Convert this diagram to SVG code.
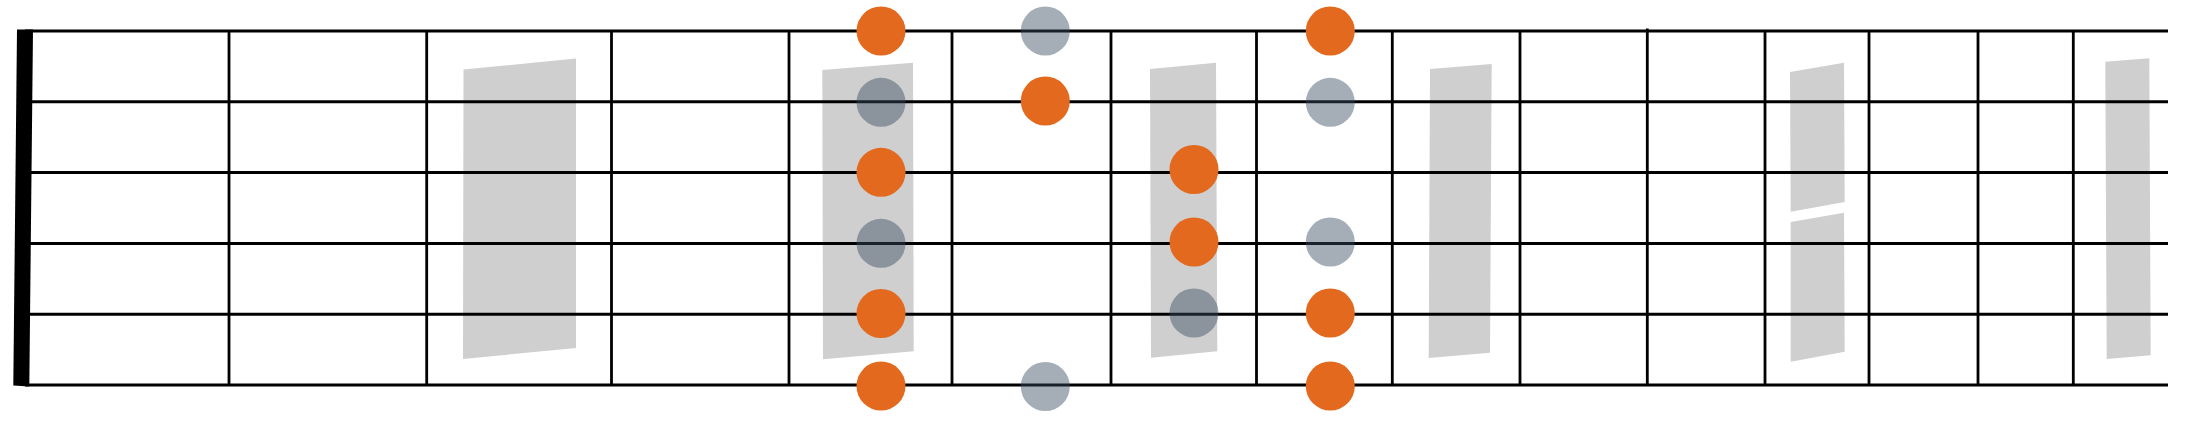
<svg xmlns="http://www.w3.org/2000/svg" width="2191" height="429" viewBox="0 0 2191 429">
  <style>
    .box { fill: #cfcfcf; }
    .str { stroke: #000; stroke-width: 3; fill: none; }
    .fret { stroke: #000; stroke-width: 2.8; fill: none; }
    .root { fill: #e3691e; }
    .tone { fill: rgb(56,76,96); fill-opacity: 0.45; }
  </style>
  <rect width="2191" height="429" fill="#fff"/>
  <g id="positions">
    <polygon class="box" points="463.5,69.5 576,58.5 576,348 463,359"/>
    <polygon class="box" points="822.3,70 913,62.7 913.7,351.3 823,359.3"/>
    <polygon class="box" points="1150,69 1216,62.7 1217.3,351.3 1151,357.7"/>
    <polygon class="box" points="1430,69 1491.7,64 1490,352.7 1428.7,358"/>
    <polygon class="box" points="1790,72 1844,62.7 1844.7,202 1790.7,211.7"/>
    <polygon class="box" points="1790.7,222 1844,212.7 1844.7,351.7 1790.7,361.7"/>
    <polygon class="box" points="2105.3,61.7 2149.3,58.3 2150.7,355.3 2106.7,359"/>
  </g>
  <g id="fretboard">
    <g id="strings">
      <line class="str" x1="25" y1="31" x2="2168" y2="31"/>
      <line class="str" x1="25" y1="101.8" x2="2168" y2="101.8"/>
      <line class="str" x1="25" y1="172.6" x2="2168" y2="172.6"/>
      <line class="str" x1="25" y1="243.4" x2="2168" y2="243.4"/>
      <line class="str" x1="25" y1="314.2" x2="2168" y2="314.2"/>
      <line class="str" x1="25" y1="385" x2="2168" y2="385"/>
    </g>
    <g id="frets">
      <line class="fret" x1="229" y1="31" x2="229" y2="385"/>
      <line class="fret" x1="426.7" y1="31" x2="426.7" y2="385"/>
      <line class="fret" x1="611.5" y1="31" x2="611.5" y2="385"/>
      <line class="fret" x1="789" y1="31" x2="789" y2="385"/>
      <line class="fret" x1="952" y1="31" x2="952" y2="385"/>
      <line class="fret" x1="1111" y1="31" x2="1111" y2="385"/>
      <line class="fret" x1="1256.5" y1="31" x2="1256.5" y2="385"/>
      <line class="fret" x1="1392.3" y1="31" x2="1392.3" y2="385"/>
      <line class="fret" x1="1520" y1="31" x2="1520" y2="385"/>
      <line class="fret" x1="1647.3" y1="28.5" x2="1647.3" y2="385"/>
      <line class="fret" x1="1765" y1="31" x2="1765" y2="385"/>
      <line class="fret" x1="1869" y1="31" x2="1869" y2="385"/>
      <line class="fret" x1="1978" y1="31" x2="1978" y2="385"/>
      <line class="fret" x1="2073.3" y1="31" x2="2073.3" y2="385"/>
    </g>
    <polygon id="nut" fill="#000" points="17,29.5 33,29.5 29.3,386.5 13.3,385.5"/>
  </g>
  <g id="notes">
    <g id="col-881">
      <circle class="root" cx="881" cy="31" r="24.5"/>
      <circle class="tone" cx="881" cy="102.3" r="24.5"/>
      <circle class="root" cx="881" cy="172.3" r="24.5"/>
      <circle class="tone" cx="881" cy="243.3" r="24.5"/>
      <circle class="root" cx="881" cy="313.5" r="24.5"/>
      <circle class="root" cx="881" cy="386" r="24.5"/>
    </g>
    <g id="col-1045">
      <circle class="tone" cx="1045.3" cy="31" r="24.5"/>
      <circle class="root" cx="1045.3" cy="101" r="24.5"/>
      <circle class="tone" cx="1045.3" cy="386.5" r="24.5"/>
    </g>
    <g id="col-1194">
      <circle class="root" cx="1194" cy="169.5" r="24.5"/>
      <circle class="root" cx="1194" cy="242" r="24.5"/>
      <circle class="tone" cx="1194" cy="313" r="24.5"/>
    </g>
    <g id="col-1330">
      <circle class="root" cx="1330.3" cy="31" r="24.5"/>
      <circle class="tone" cx="1330.3" cy="102.3" r="24.5"/>
      <circle class="tone" cx="1330.3" cy="242" r="24.5"/>
      <circle class="root" cx="1330.3" cy="313" r="24.5"/>
      <circle class="root" cx="1330.3" cy="386" r="24.5"/>
    </g>
  </g>
</svg>
